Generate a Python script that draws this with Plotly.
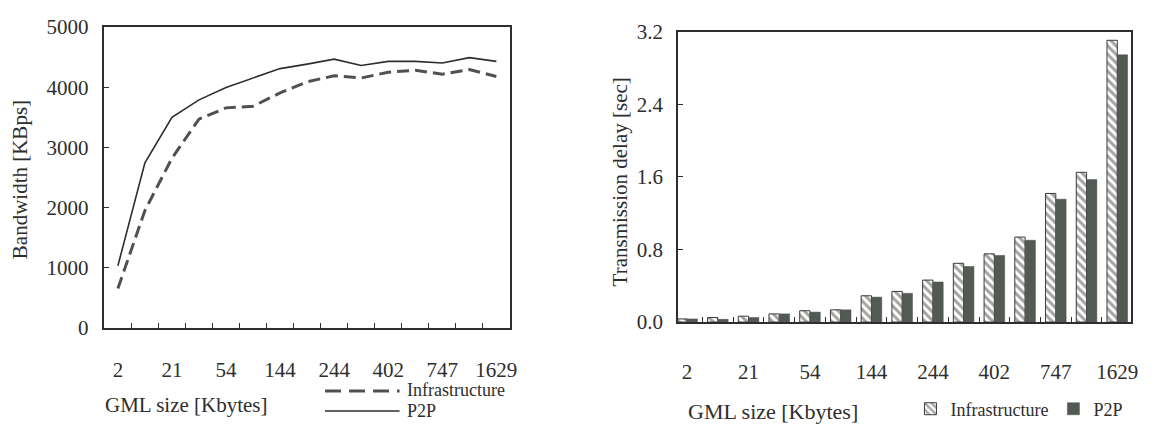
import plotly.graph_objects as go

# ---------------- data ----------------
# 15 GML file sizes (only every second one is labelled in the source)
size_index = list(range(15))
label_pos = [0, 2, 4, 6, 8, 10, 12, 14]
size_labels = ["2", "21", "54", "144", "244", "402", "747", "1629"]

# Bandwidth [KBps]
bw_infrastructure = [653, 1950, 2820, 3470, 3657, 3685, 3905, 4091, 4190, 4154,
                     4250, 4284, 4216, 4295, 4180]
bw_p2p = [1030, 2743, 3500, 3790, 3997, 4154, 4310, 4385, 4467, 4363,
          4430, 4430, 4404, 4493, 4430]

# Transmission delay [sec]
delay_infrastructure = [0.035, 0.05, 0.065, 0.09, 0.125, 0.135, 0.29, 0.338, 0.463,
                        0.648, 0.752, 0.937, 1.418, 1.651, 3.107]
delay_p2p = [0.035, 0.03, 0.05, 0.09, 0.11, 0.135, 0.275, 0.317, 0.442,
             0.613, 0.735, 0.902, 1.355, 1.571, 2.947]

bw_ticks = [0, 1000, 2000, 3000, 4000, 5000]
delay_ticks = [0.0, 0.8, 1.6, 2.4, 3.2]
delay_tick_text = ["0.0", "0.8", "1.6", "2.4", "3.2"]

# ---------------- style ----------------
W, H = 1157, 439
FONT = "Liberation Serif"
INK = "#2e2e2e"
DARK = "#535a53"


def px(x):
    return x / W


def py(y):
    return 1 - y / H


fig = go.Figure()

fig.add_trace(go.Scatter(
    x=size_index, y=bw_infrastructure, mode="lines", name="Infrastructure",
    line=dict(color="#505050", width=3, dash="12px,6px"),
    xaxis="x", yaxis="y", showlegend=False))
fig.add_trace(go.Scatter(
    x=size_index, y=bw_p2p, mode="lines", name="P2P",
    line=dict(color=INK, width=1.6),
    xaxis="x", yaxis="y", showlegend=False))

fig.add_trace(go.Bar(
    x=size_index, y=delay_infrastructure, name="Infrastructure",
    marker=dict(color="white", line=dict(color="#3a3a3a", width=1),
                pattern=dict(shape="\\", fgcolor="#454a45", bgcolor="white",
                             size=6, solidity=0.5)),
    xaxis="x2", yaxis="y2", legend="legend2"))
fig.add_trace(go.Bar(
    x=size_index, y=delay_p2p, name="P2P",
    marker=dict(color=DARK, line=dict(color="#4a4f4a", width=0.5)),
    xaxis="x2", yaxis="y2", legend="legend2"))

axis_common = dict(showgrid=False, zeroline=False, showline=True, mirror=True,
                   linecolor=INK, linewidth=1.5,
                   tickfont=dict(family=FONT, size=21, color=INK))

fig.update_layout(
    width=W, height=H,
    margin=dict(l=0, r=0, t=0, b=0),
    paper_bgcolor="white", plot_bgcolor="white",
    font=dict(family=FONT, color=INK),
    barmode="group", bargap=0.33, bargroupgap=0,
    xaxis=dict(domain=[px(105), px(513)], range=[-0.5, 14.5], anchor="y",
               tickmode="array", tickvals=label_pos, ticktext=size_labels,
               ticks="", ticklabelstandoff=22,
               minor=dict(tickvals=[i + 0.5 for i in range(14)], ticks="inside",
                          ticklen=5, tickcolor=INK, showgrid=False),
               **axis_common),
    yaxis=dict(domain=[py(334), py(16)], range=[0, 5000], anchor="x",
               tickmode="array", tickvals=bw_ticks, ticks="inside", ticklen=5,
               tickcolor=INK, ticklabelstandoff=10, **axis_common),
    xaxis2=dict(domain=[px(682), px(1138)], range=[-0.3, 14.45], anchor="y2",
                tickmode="array", tickvals=label_pos, ticktext=size_labels,
                ticks="", ticklabelstandoff=30,
                minor=dict(tickvals=[i + 0.5 for i in range(14)], ticks="inside",
                           ticklen=5, tickcolor=INK, showgrid=False),
                **axis_common),
    yaxis2=dict(domain=[py(328), py(21)], range=[0, 3.2], anchor="x2",
                tickmode="array", tickvals=delay_ticks, ticktext=delay_tick_text,
                ticks="inside", ticklen=5, tickcolor=INK, ticklabelstandoff=9,
                **axis_common),
    legend2=dict(orientation="h", x=px(916), y=py(420), xanchor="left",
                 yanchor="middle", bgcolor="rgba(0,0,0,0)",
                 font=dict(family=FONT, size=18, color=INK),
                 itemwidth=30, tracegroupgap=0),
)

ann_font = dict(family=FONT, color=INK)
annotations = [
    dict(text="Bandwidth [KBps]", x=px(20), y=py(177), textangle=-90,
         font=dict(size=21, **ann_font)),
    dict(text="Transmission delay [sec]", x=px(624), y=py(180), textangle=-90,
         font=dict(size=21, **ann_font)),
    dict(text="GML size [Kbytes]", x=px(104), y=py(416), xanchor="left",
         font=dict(size=21, **ann_font)),
    dict(text="GML size [Kbytes]", x=px(690), y=py(423), xanchor="left",
         font=dict(size=22, **ann_font)),
    dict(text="Infrastructure", x=px(407), y=py(400), xanchor="left",
         font=dict(size=18, **ann_font)),
    dict(text="P2P", x=px(407), y=py(422), xanchor="left",
         font=dict(size=18, **ann_font)),
]
for a in annotations:
    a.update(xref="paper", yref="paper", showarrow=False, yanchor="middle")
    a.setdefault("xanchor", "center")
fig.update_layout(annotations=annotations)

fig.update_layout(shapes=[
    dict(type="line", xref="paper", yref="paper", x0=px(327), x1=px(402),
         y0=py(401), y1=py(401), line=dict(color="#505050", width=3, dash="16px,8px")),
    dict(type="line", xref="paper", yref="paper", x0=px(327), x1=px(402),
         y0=py(422), y1=py(422), line=dict(color=INK, width=1.5)),
])

fig.write_html("out.html")
